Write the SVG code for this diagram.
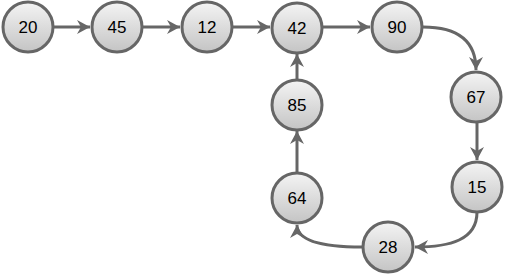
<svg xmlns="http://www.w3.org/2000/svg" width="505" height="275" viewBox="0 0 505 275">
<defs>
<linearGradient id="g" x1="0" y1="0" x2="0" y2="1">
<stop offset="0" stop-color="#f4f4f4"/>
<stop offset="1" stop-color="#c4c4c4"/>
</linearGradient>
<marker id="ah" markerUnits="userSpaceOnUse" markerWidth="16" markerHeight="16" viewBox="-14 -8 16 16" refX="0" refY="0" orient="auto">
<path d="M0,0 L-13,-7 L-9,0 L-13,7 Z" fill="#666"/>
</marker>
</defs>
<style>
.n circle{fill:url(#g);stroke:#666;stroke-width:3}
.n text{font-family:"Liberation Sans",Arial,sans-serif;font-size:17px;fill:#000;text-anchor:middle;dominant-baseline:central}
.e path{fill:none;stroke:#666;stroke-width:3;marker-end:url(#ah)}
</style>
<g class="e" id="edges">
<path d="M54,27 L90,27"/>
<path d="M143,27 L180,27"/>
<path d="M233,27 L270,27"/>
<path d="M323,27 L370,27"/>
<path d="M423,27 C462,27 476,45 476,70"/>
<path d="M477,123 L477,160"/>
<path d="M477,212 C477,240 450,247 415,247"/>
<path d="M362,247 C320,247 297,240 297,225"/>
<path d="M297,172 L297,131"/>
<path d="M297,80 L297,54"/>
</g>
<g class="n" id="n20"><circle cx="28" cy="27" r="25"/><text x="28" y="27">20</text></g>
<g class="n" id="n45"><circle cx="117" cy="27" r="25"/><text x="117" y="27">45</text></g>
<g class="n" id="n12"><circle cx="207" cy="27" r="25"/><text x="207" y="27">12</text></g>
<g class="n" id="n42"><circle cx="297" cy="28" r="25"/><text x="297" y="28">42</text></g>
<g class="n" id="n90"><circle cx="397" cy="27" r="25"/><text x="397" y="27">90</text></g>
<g class="n" id="n67"><circle cx="476" cy="97" r="25"/><text x="476" y="97">67</text></g>
<g class="n" id="n15"><circle cx="477" cy="187" r="25"/><text x="477" y="187">15</text></g>
<g class="n" id="n28"><circle cx="388" cy="247" r="25"/><text x="388" y="247">28</text></g>
<g class="n" id="n64"><circle cx="297" cy="198" r="25"/><text x="297" y="198">64</text></g>
<g class="n" id="n85"><circle cx="297" cy="105" r="25"/><text x="297" y="105">85</text></g>
</svg>
